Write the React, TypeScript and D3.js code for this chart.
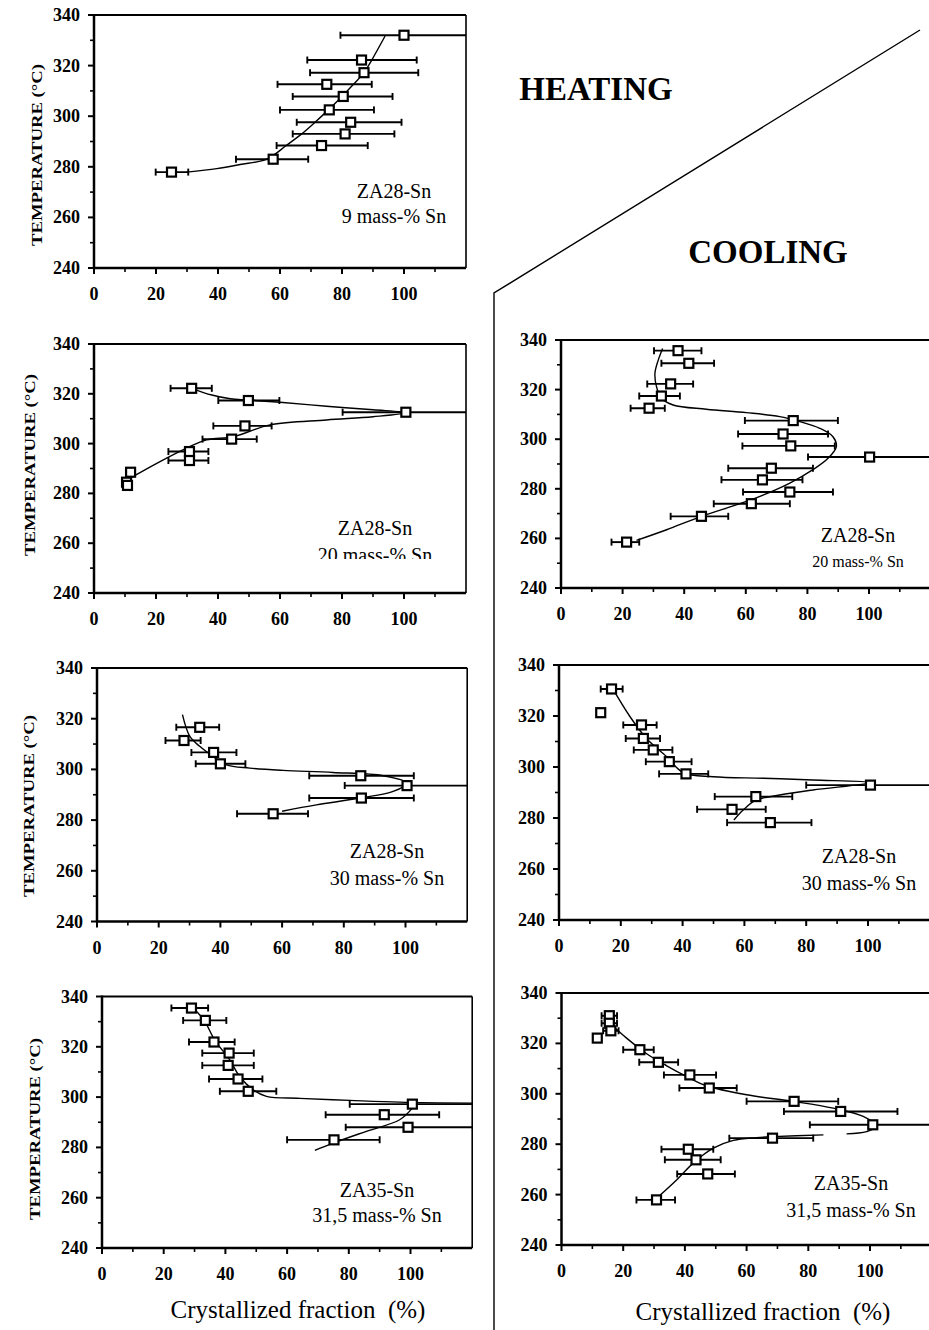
import React from 'react';
import * as d3 from 'd3';

const FONT = '"Liberation Serif", "Times New Roman", serif';

// ---------- data: [fraction %, temperature °C, error low, error high] ----------
const heat9Points = [
  [100, 332, 79.5, 121], [86.3, 322.2, 68.8, 104.1], [87.1, 317.2, 69.7, 104.6],
  [75.1, 312.6, 59.2, 89.6], [80.4, 307.8, 64.1, 96.3], [75.9, 302.5, 60, 90.3],
  [82.8, 297.6, 65.4, 99.2], [81, 293, 64.1, 96.9], [73.4, 288.4, 58.9, 88.3],
  [57.8, 283, 45.8, 69.1], [25, 277.9, 19.9, 30.4],
];
const heat9Curve = [
  [29.9, 277.9], [39.6, 279.3], [47.1, 280.9], [55.7, 283], [62, 288.4], [67, 293],
  [71.3, 297.6], [75.6, 302.5], [80, 307.8], [83.7, 312.6], [87.1, 317.2], [89.6, 322.2], [93.9, 331.7],
];

const heat20Points = [
  [31.5, 322.2, 24.7, 38], [49.8, 317.3, 40.1, 59.8], [100.6, 312.6, 80.2, 121],
  [48.7, 307.1, 38.5, 57.3], [44.4, 301.8, 35, 52.5], [30.8, 296.8, 24, 36.9],
  [30.8, 293.2, 24, 36.9], [11.8, 288.5, 11.8, 11.8], [10.5, 284.5, 10.5, 10.5], [10.8, 283.2, 10.8, 10.8],
];
const heat20Curve = [
  [11.6, 286.1], [21.3, 292.8], [29.9, 298.2], [36.3, 301.5], [45, 302.8], [56.8, 307.5],
  [75, 309.5], [90, 310.8], [100.6, 312.4], [90, 313.6], [75, 315], [60, 316.6],
  [49.8, 317.5], [44, 318], [38, 319.5], [31.5, 322.2],
];

const heat30Points = [
  [33.3, 316.6, 25.7, 39.6], [28.2, 311.4, 22.2, 33.6], [37.8, 306.7, 30.6, 45.2],
  [40, 302.2, 32, 48.1], [85.5, 297.5, 68.8, 102.7], [100.5, 293.6, 80.3, 121],
  [85.7, 288.7, 68.8, 102.7], [57.1, 282.5, 45.4, 68.4],
];
const heat30Curve = [
  [27.7, 321.6], [30.1, 313], [33.3, 309.1], [37.6, 305.1], [41.9, 301.8], [49.5, 300.5],
  [60.3, 299.6], [76.5, 298.8], [92.8, 297.5], [100.5, 294.6], [96, 291.3], [85.2, 288.7],
  [71.1, 286], [60, 283.5],
];

const heat315Points = [
  [29, 335.4, 22.5, 34.4], [33.5, 330.5, 26.3, 40.3], [36.3, 321.9, 28.2, 43],
  [41.2, 317.5, 32.5, 49.2], [40.9, 312.6, 32.5, 49.2], [44.1, 307.2, 34.7, 52],
  [47.4, 302.3, 38.2, 56.5], [100.6, 297.2, 80.3, 121], [91.5, 293, 72.5, 109.3],
  [99.2, 288, 79, 121], [75.2, 283, 60, 90],
];
const heat315CurveUpper = [
  [29, 336], [33, 330.7], [36.5, 322.8], [41.4, 314.8], [44.6, 308.2], [49, 302.9],
  [53.3, 300.3], [64.1, 299.5], [80.3, 298.7], [96.5, 298], [121, 297.6],
];
const heat315CurveLower = [
  [69, 278.8], [74.9, 281.7], [85.7, 286.4], [96.5, 291], [100.6, 295.6],
];

const cool20Points = [
  [38, 335.7, 30.2, 45.6], [41.5, 330.6, 32.6, 49.7], [35.6, 322.3, 28, 42.9],
  [32.6, 317.4, 25.4, 38.6], [28.6, 312.5, 22.6, 33.7], [75.4, 307.5, 59.7, 89.9],
  [72.1, 302.1, 57.5, 86.7], [74.6, 297.3, 58.9, 88.9], [100.2, 292.8, 80.2, 121],
  [68.3, 288.3, 54.3, 81.8], [65.4, 283.6, 52.1, 78.4], [74.3, 278.7, 59.1, 88.3],
  [61.8, 274, 49.6, 74.3], [45.6, 268.9, 35.6, 54.3], [21.3, 258.5, 16.4, 25.4],
];
const cool20Curve = [
  [24.5, 259.2], [34.3, 263.5], [45.6, 268.9], [61.8, 275.6], [74.3, 282.3], [81.8, 287.7],
  [86.7, 292.3], [89.4, 297], [88.3, 301], [84, 304.4], [77.5, 307.1], [71, 309.1],
  [60.2, 310.7], [47.2, 312.1], [36.4, 313.8], [32.6, 316.5], [31, 321.2], [30.5, 326.6],
  [31.6, 332], [33, 336.6],
];

const cool30Points = [
  [17, 330.6, 13.5, 20.6], [13.5, 321.3, 13.5, 13.5], [26.7, 316.5, 20.8, 31.6],
  [27.3, 311.2, 21.6, 32.7], [30.5, 306.7, 24.2, 36.7], [35.7, 302.1, 28.1, 42.9],
  [41.1, 297.3, 32.4, 48.3], [100.8, 292.9, 80, 121], [63.7, 288.4, 50.4, 75.5],
  [56, 283.4, 44.7, 66.9], [68.4, 278.2, 54.4, 81.7],
];
const cool30Curve = [
  [17, 331.5], [23, 319.7], [28.3, 311.2], [34.8, 304.1], [40.2, 297.8], [49.9, 296.2],
  [66.1, 295.6], [82.2, 294.9], [100.8, 293.9], [82.2, 291], [71.4, 289], [63.7, 287],
  [59.6, 283.1], [56.6, 279.2],
];

const cool315Points = [
  [15.5, 331, 13, 18], [15.5, 328, 13, 18], [16, 325, 13.5, 18.5], [11.6, 322.1, 11.6, 11.6],
  [25.4, 317.5, 20, 29.9], [31.4, 312.5, 25.2, 37.8], [41.6, 307.5, 33.2, 50.1],
  [47.9, 302.3, 38.2, 56.8], [75.4, 297, 60, 89.7], [90.5, 293, 72.1, 108.9],
  [100.9, 287.7, 80.5, 121], [68.4, 282.4, 54.4, 81.6], [41.1, 278, 32.4, 49.2],
  [43.6, 273.8, 33.5, 51.6], [47.4, 268.2, 37.5, 56.2], [30.8, 257.9, 24.3, 36.8],
];
const cool315CurveUpper = [
  [16.2, 327.4], [21.1, 322.1], [27.6, 315.9], [34.1, 311.1], [40.5, 306.9], [47, 303.2],
  [60, 299.6], [75.1, 297], [88.1, 294.3], [97.8, 291], [102.2, 287], [98.9, 285], [92.4, 284.1],
];
const cool315CurveLower = [
  [30.8, 258.5], [37.3, 265.8], [42.7, 272.5], [49.2, 278.4], [55.7, 281.5], [63.2, 282.6],
  [68.6, 283], [84.9, 283.7],
];

const yMajorTicks = [240, 260, 280, 300, 320, 340];
const yMinorTicks = [250, 270, 290, 310, 330];
const xMajorTicks = [0, 20, 40, 60, 80, 100];
const xMinorTicks = [10, 30, 50, 70, 90, 110];

// ---------- layout ----------
const panels = [
  { id: 'h9', x0: 94, x100: 404, y340: 15, y240: 268, points: heat9Points, curves: [heat9Curve],
    alloy: 'ZA28-Sn', comp: '9 mass-% Sn', tx: 394, t1: 198, t2: 223, s2: 20,
    ylab: { x: 37, y: 155 } },
  { id: 'h20', x0: 94, x100: 404, y340: 344, y240: 593, points: heat20Points, curves: [heat20Curve],
    alloy: 'ZA28-Sn', comp: '20 mass-% Sn', tx: 375, t1: 535, t2: 562, s2: 20, clipBottom: 559,
    ylab: { x: 30, y: 465 } },
  { id: 'h30', x0: 97, x100: 405.5, y340: 668, y240: 921.5, points: heat30Points, curves: [heat30Curve],
    alloy: 'ZA28-Sn', comp: '30 mass-% Sn', tx: 387, t1: 858, t2: 885, s2: 20,
    ylab: { x: 29, y: 806 } },
  { id: 'h315', x0: 102, x100: 410.5, y340: 996.5, y240: 1248, points: heat315Points,
    curves: [heat315CurveUpper, heat315CurveLower],
    alloy: 'ZA35-Sn', comp: '31,5 mass-% Sn', tx: 377, t1: 1197, t2: 1222, s2: 20,
    ylab: { x: 35, y: 1129 }, xlab: { x: 298, y: 1318 } },
  { id: 'c20', x0: 561, x100: 869, y340: 340, y240: 588, points: cool20Points, curves: [cool20Curve],
    alloy: 'ZA28-Sn', comp: '20 mass-% Sn', tx: 858, t1: 542, t2: 567, s2: 16 },
  { id: 'c30', x0: 559, x100: 868, y340: 665, y240: 920, points: cool30Points, curves: [cool30Curve],
    alloy: 'ZA28-Sn', comp: '30 mass-% Sn', tx: 859, t1: 863, t2: 890, s2: 20 },
  { id: 'c315', x0: 561.5, x100: 870, y340: 993, y240: 1245, points: cool315Points,
    curves: [cool315CurveUpper, cool315CurveLower],
    alloy: 'ZA35-Sn', comp: '31,5 mass-% Sn', tx: 851, t1: 1190, t2: 1217, s2: 20,
    xlab: { x: 763, y: 1320 } },
];

function Panel({ p }: { p: any }) {
  const x = d3.scaleLinear().domain([0, 100]).range([p.x0, p.x100]);
  const y = d3.scaleLinear().domain([240, 340]).range([p.y240, p.y340]);
  const xr = x(120);
  const line = d3.line<number[]>()
    .x((d) => x(d[0]))
    .y((d) => y(d[1]))
    .curve(d3.curveCatmullRom.alpha(0.5));
  const clipId = `clip-${p.id}`;
  const textClip = `tclip-${p.id}`;
  const ms = 9;
  return (
    <g>
      <defs>
        <clipPath id={clipId}>
          <rect x={p.x0} y={p.y340 - 6} width={xr - p.x0} height={p.y240 - p.y340 + 6} />
        </clipPath>
        {p.clipBottom && (
          <clipPath id={textClip}>
            <rect x={0} y={p.t1 - 40} width={929} height={p.clipBottom - (p.t1 - 40)} />
          </clipPath>
        )}
      </defs>
      {/* frame */}
      <line x1={p.x0} x2={xr} y1={p.y340} y2={p.y340} stroke="#000" strokeWidth={2} />
      <line x1={xr} x2={xr} y1={p.y340} y2={p.y240} stroke="#000" strokeWidth={1.6} />
      <line x1={p.x0} x2={p.x0} y1={p.y340 - 1} y2={p.y240 + 1} stroke="#000" strokeWidth={2.5} />
      <line x1={p.x0 - 1} x2={xr} y1={p.y240} y2={p.y240} stroke="#000" strokeWidth={2.5} />
      {/* y ticks */}
      {yMajorTicks.map((t) => (
        <g key={'ym' + t}>
          <line x1={p.x0 - 6} x2={p.x0} y1={y(t)} y2={y(t)} stroke="#000" strokeWidth={2} />
          <text x={p.x0 - 14} y={y(t)} textAnchor="end" dominantBaseline="central"
            fontFamily={FONT} fontWeight="bold" fontSize={18}>{t}</text>
        </g>
      ))}
      {yMinorTicks.map((t) => (
        <line key={'yn' + t} x1={p.x0 - 4} x2={p.x0} y1={y(t)} y2={y(t)} stroke="#000" strokeWidth={1.6} />
      ))}
      {/* x ticks */}
      {xMajorTicks.map((t) => (
        <g key={'xm' + t}>
          <line x1={x(t)} x2={x(t)} y1={p.y240} y2={p.y240 + 6} stroke="#000" strokeWidth={2} />
          <text x={x(t)} y={p.y240 + 32} textAnchor="middle"
            fontFamily={FONT} fontWeight="bold" fontSize={18}>{t}</text>
        </g>
      ))}
      {xMinorTicks.map((t) => (
        <line key={'xn' + t} x1={x(t)} x2={x(t)} y1={p.y240} y2={p.y240 + 4} stroke="#000" strokeWidth={1.6} />
      ))}
      {/* curves, error bars, markers */}
      <g clipPath={`url(#${clipId})`}>
        {p.curves.map((c: number[][], i: number) => (
          <path key={'c' + i} d={line(c) || ''} fill="none" stroke="#000" strokeWidth={1.4} />
        ))}
        {p.points.map((d: number[], i: number) => (
          d[3] - d[2] > 0.5 ? (
            <g key={'e' + i}>
              <line x1={x(d[2])} x2={x(d[3])} y1={y(d[1])} y2={y(d[1])} stroke="#000" strokeWidth={1.9} />
              <line x1={x(d[2])} x2={x(d[2])} y1={y(d[1]) - 3.5} y2={y(d[1]) + 3.5} stroke="#000" strokeWidth={1.9} />
              <line x1={x(d[3])} x2={x(d[3])} y1={y(d[1]) - 3.5} y2={y(d[1]) + 3.5} stroke="#000" strokeWidth={1.9} />
            </g>
          ) : null
        ))}
        {p.points.map((d: number[], i: number) => (
          <rect key={'m' + i} x={x(d[0]) - ms / 2} y={y(d[1]) - ms / 2} width={ms} height={ms}
            fill="#fff" stroke="#000" strokeWidth={2.2} />
        ))}
      </g>
      {/* labels */}
      <text x={p.tx} y={p.t1} textAnchor="middle" fontFamily={FONT} fontSize={20}>{p.alloy}</text>
      <g clipPath={p.clipBottom ? `url(#${textClip})` : undefined}>
        <text x={p.tx} y={p.t2} textAnchor="middle" fontFamily={FONT} fontSize={p.s2}>{p.comp}</text>
      </g>
      {p.ylab && (
        <text transform={`translate(${p.ylab.x},${p.ylab.y}) rotate(-90)`} textAnchor="middle"
          dominantBaseline="central" fontFamily={FONT} fontWeight="bold" fontSize={14.5}
          textLength={182} lengthAdjust="spacingAndGlyphs">TEMPERATURE (°C)</text>
      )}
      {p.xlab && (
        <text x={p.xlab.x} y={p.xlab.y} textAnchor="middle" fontFamily={FONT} fontSize={25}
          style={{ whiteSpace: 'pre' }}>{'Crystallized fraction  (%)'}</text>
      )}
    </g>
  );
}

export default function App() {
  return (
    <svg width={929} height={1330} viewBox="0 0 929 1330"
      style={{ position: 'absolute', left: 0, top: 0, background: '#fff' }}>
      <rect x={0} y={0} width={929} height={1330} fill="#fff" />
      {/* divider between heating and cooling */}
      <polyline points="920,30 494,293 494,1330" fill="none" stroke="#000" strokeWidth={1.4} />
      <text x={596} y={100} textAnchor="middle" fontFamily={FONT} fontWeight="bold" fontSize={33}>HEATING</text>
      <text x={768} y={263} textAnchor="middle" fontFamily={FONT} fontWeight="bold" fontSize={33}>COOLING</text>
      {panels.map((p) => <Panel key={p.id} p={p} />)}
    </svg>
  );
}
